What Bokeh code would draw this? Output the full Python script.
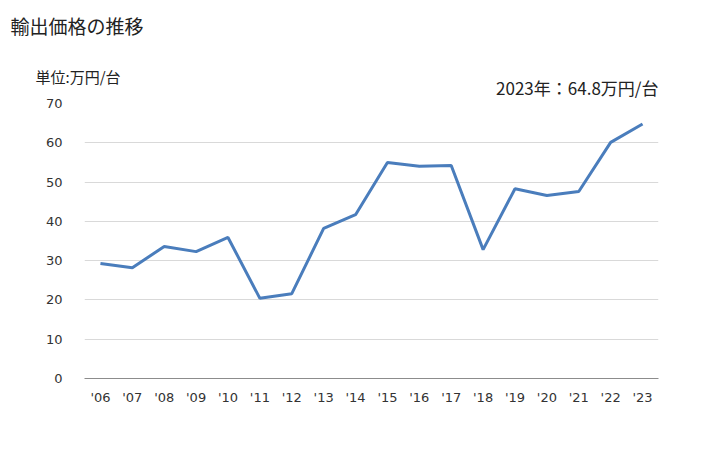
from bokeh.plotting import figure
from bokeh.models import Label, FactorRange, Range1d, FixedTicker
from bokeh.embed import file_html
from bokeh.resources import INLINE

years = ["'06", "'07", "'08", "'09", "'10", "'11", "'12", "'13", "'14",
         "'15", "'16", "'17", "'18", "'19", "'20", "'21", "'22", "'23"]
prices = [29.3, 28.2, 33.6, 32.3, 35.9, 20.4, 21.6, 38.2, 41.7,
          55.0, 54.0, 54.2, 32.8, 48.3, 46.6, 47.6, 60.1, 64.8]
y_ticks = [0, 10, 20, 30, 40, 50, 60, 70]

title_text = "輸出価格の推移"
unit_text = "単位:万円/台"
latest_text = "2023年：64.8万円/台"

JP = "Noto Sans CJK JP"
NUM = "DejaVu Sans"

p = figure(width=728, height=450, output_backend="svg", toolbar_location=None,
           x_range=FactorRange(*years, range_padding=0),
           y_range=Range1d(0, 70),
           min_border_left=84, min_border_right=70, min_border_top=103, min_border_bottom=72)
p.outline_line_color = None
p.background_fill_color = "white"
p.border_fill_color = "white"

p.line(years, prices, line_color="#4a7dbc", line_width=3)

p.yaxis.ticker = FixedTicker(ticks=y_ticks)
p.yaxis.axis_line_color = None
p.yaxis.major_tick_line_color = None
p.yaxis.minor_tick_line_color = None
p.yaxis.major_label_text_font = NUM
p.yaxis.major_label_text_font_size = "13px"
p.yaxis.major_label_text_color = "#333333"
p.yaxis.major_label_standoff = 16

p.xaxis.axis_line_color = "#8c8c8c"
p.xaxis.axis_line_width = 1
p.xaxis.major_tick_line_color = None
p.xaxis.minor_tick_line_color = None
p.xaxis.major_label_text_font = NUM
p.xaxis.major_label_text_font_size = "13px"
p.xaxis.major_label_text_color = "#333333"
p.xaxis.major_label_standoff = 5

p.xgrid.grid_line_color = None
p.ygrid.grid_line_color = "#d9d9d9"
p.ygrid.grid_line_width = 1

# labels in the "above" panel; screen units relative to their panel (stacked upward)
p.add_layout(Label(x=574, y=16, x_units="screen", y_units="screen", text=latest_text,
                   text_font=JP, text_font_size="17px", text_color="#222222",
                   text_baseline="middle", text_align="right"), "above")
p.add_layout(Label(x=-49, y=2, x_units="screen", y_units="screen", text=unit_text,
                   text_font=JP, text_font_size="15px", text_color="#222222",
                   text_baseline="middle", text_align="left"), "above")
p.add_layout(Label(x=-74, y=32, x_units="screen", y_units="screen", text=title_text,
                   text_font=JP, text_font_size="19px", text_color="#222222",
                   text_baseline="middle", text_align="left"), "above")

open("out.html", "w").write(file_html(p, INLINE))
